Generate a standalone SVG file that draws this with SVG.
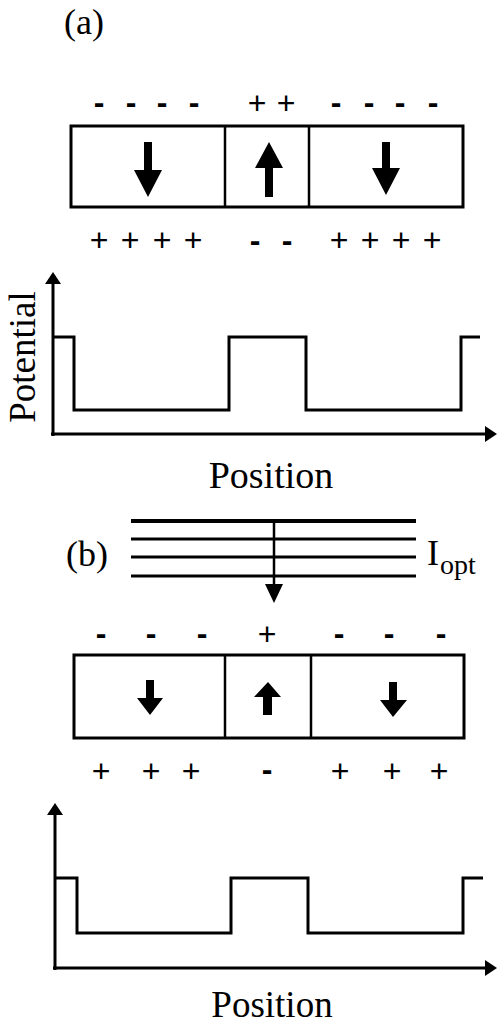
<svg xmlns="http://www.w3.org/2000/svg" width="497" height="1025" viewBox="0 0 497 1025">
<style>
.box{fill:none;stroke:#000;stroke-width:3}
.div{fill:none;stroke:#000;stroke-width:2.5}
.ln{fill:none;stroke:#000;stroke-width:3;stroke-linejoin:miter}
.blk{fill:#000;stroke:none}
.sf{font-family:'Liberation Serif','DejaVu Serif','Times New Roman',serif;fill:#000}
.mi{font-family:'Liberation Sans','DejaVu Sans',Arial,sans-serif;font-size:32px;font-weight:bold;text-anchor:middle;fill:#000}
.pl{font-family:'Liberation Sans','DejaVu Sans',Arial,sans-serif;font-size:32px;text-anchor:middle;fill:#000}
</style>

<text class="sf" x="64" y="34" font-size="36">(a)</text>

<g id="charges-a-top">
<text class="mi" x="99" y="113">-</text>
<text class="mi" x="131" y="113">-</text>
<text class="mi" x="162" y="113">-</text>
<text class="mi" x="194" y="113">-</text>
<text class="pl" x="257" y="114">+</text>
<text class="pl" x="286" y="114">+</text>
<text class="mi" x="336" y="113">-</text>
<text class="mi" x="369" y="113">-</text>
<text class="mi" x="400" y="113">-</text>
<text class="mi" x="433" y="113">-</text>
</g>

<g id="domains-a">
<rect class="box" x="71" y="126" width="392" height="81"/>
<line class="div" x1="225" y1="126" x2="225" y2="207"/>
<line class="div" x1="309" y1="126" x2="309" y2="207"/>
<path class="blk" d="M144,142 H152 V170 H162 L148,197 L134,170 H144 Z"/>
<path class="blk" d="M269,142 L283,168 H273 V197 H265 V168 H255 Z"/>
<path class="blk" d="M382,142 H390 V168 H400 L386,195 L372,168 H382 Z"/>
</g>

<g id="charges-a-bottom">
<text class="pl" x="99" y="251">+</text>
<text class="pl" x="130" y="251">+</text>
<text class="pl" x="162" y="251">+</text>
<text class="pl" x="193" y="251">+</text>
<text class="mi" x="255" y="251">-</text>
<text class="mi" x="287" y="251">-</text>
<text class="pl" x="339" y="251">+</text>
<text class="pl" x="370" y="251">+</text>
<text class="pl" x="401" y="251">+</text>
<text class="pl" x="432" y="251">+</text>
</g>

<g id="graph-a">
<path class="ln" d="M53,436 V283"/>
<path class="blk" d="M53,272 L61,284 H45 Z"/>
<path class="ln" d="M51,434 H486"/>
<path class="blk" d="M497,434 L485,426 V442 Z"/>
<path class="ln" d="M53,337 H74 V410 H229 V337 H306 V410 H461 V337 H480"/>
<text class="sf" font-size="37" text-anchor="middle" transform="translate(35,357) rotate(-90)">Potential</text>
<text class="sf" x="271" y="488" font-size="38" text-anchor="middle">Position</text>
</g>

<text class="sf" x="66" y="566" font-size="36">(b)</text>

<g id="light">
<line x1="131" y1="521" x2="416" y2="521" stroke="#000" stroke-width="4"/>
<line x1="131" y1="539" x2="416" y2="539" stroke="#000" stroke-width="3"/>
<line x1="131" y1="557" x2="416" y2="557" stroke="#000" stroke-width="3"/>
<line x1="131" y1="576" x2="416" y2="576" stroke="#000" stroke-width="3"/>
<line x1="274" y1="521" x2="274" y2="586" stroke="#000" stroke-width="2.5"/>
<path class="blk" d="M274,603 L265,584 H283 Z"/>
<text class="sf" x="427" y="565" font-size="36">I<tspan x="440" y="574" font-size="28">opt</tspan></text>
</g>

<g id="charges-b-top">
<text class="mi" x="101" y="644">-</text>
<text class="mi" x="151" y="644">-</text>
<text class="mi" x="202" y="644">-</text>
<text class="pl" x="267" y="645">+</text>
<text class="mi" x="339" y="644">-</text>
<text class="mi" x="389" y="644">-</text>
<text class="mi" x="441" y="644">-</text>
</g>

<g id="domains-b">
<rect class="box" x="74" y="655" width="390" height="83"/>
<line class="div" x1="225" y1="655" x2="225" y2="738"/>
<line class="div" x1="311" y1="655" x2="311" y2="738"/>
<path class="blk" d="M146,680 H154 V698 H163 L150,715 L137,698 H146 Z"/>
<path class="blk" d="M268,682 L281,697 H272 V715 H263 V697 H254 Z"/>
<path class="blk" d="M389,682 H397 V700 H407 L393,717 L380,700 H389 Z"/>
</g>

<g id="charges-b-bottom">
<text class="pl" x="101" y="782">+</text>
<text class="pl" x="151" y="782">+</text>
<text class="pl" x="191" y="782">+</text>
<text class="mi" x="267" y="780">-</text>
<text class="pl" x="340" y="782">+</text>
<text class="pl" x="392" y="782">+</text>
<text class="pl" x="439" y="782">+</text>
</g>

<g id="graph-b">
<path class="ln" d="M55,970 V813"/>
<path class="blk" d="M55,803 L63,815 H47 Z"/>
<path class="ln" d="M53,968 H486"/>
<path class="blk" d="M497,968 L485,960 V976 Z"/>
<path class="ln" d="M55,878 H77 V933 H231 V878 H308 V933 H463 V878 H483"/>
<text class="sf" x="272" y="1017" font-size="37" text-anchor="middle">Position</text>
</g>
</svg>
